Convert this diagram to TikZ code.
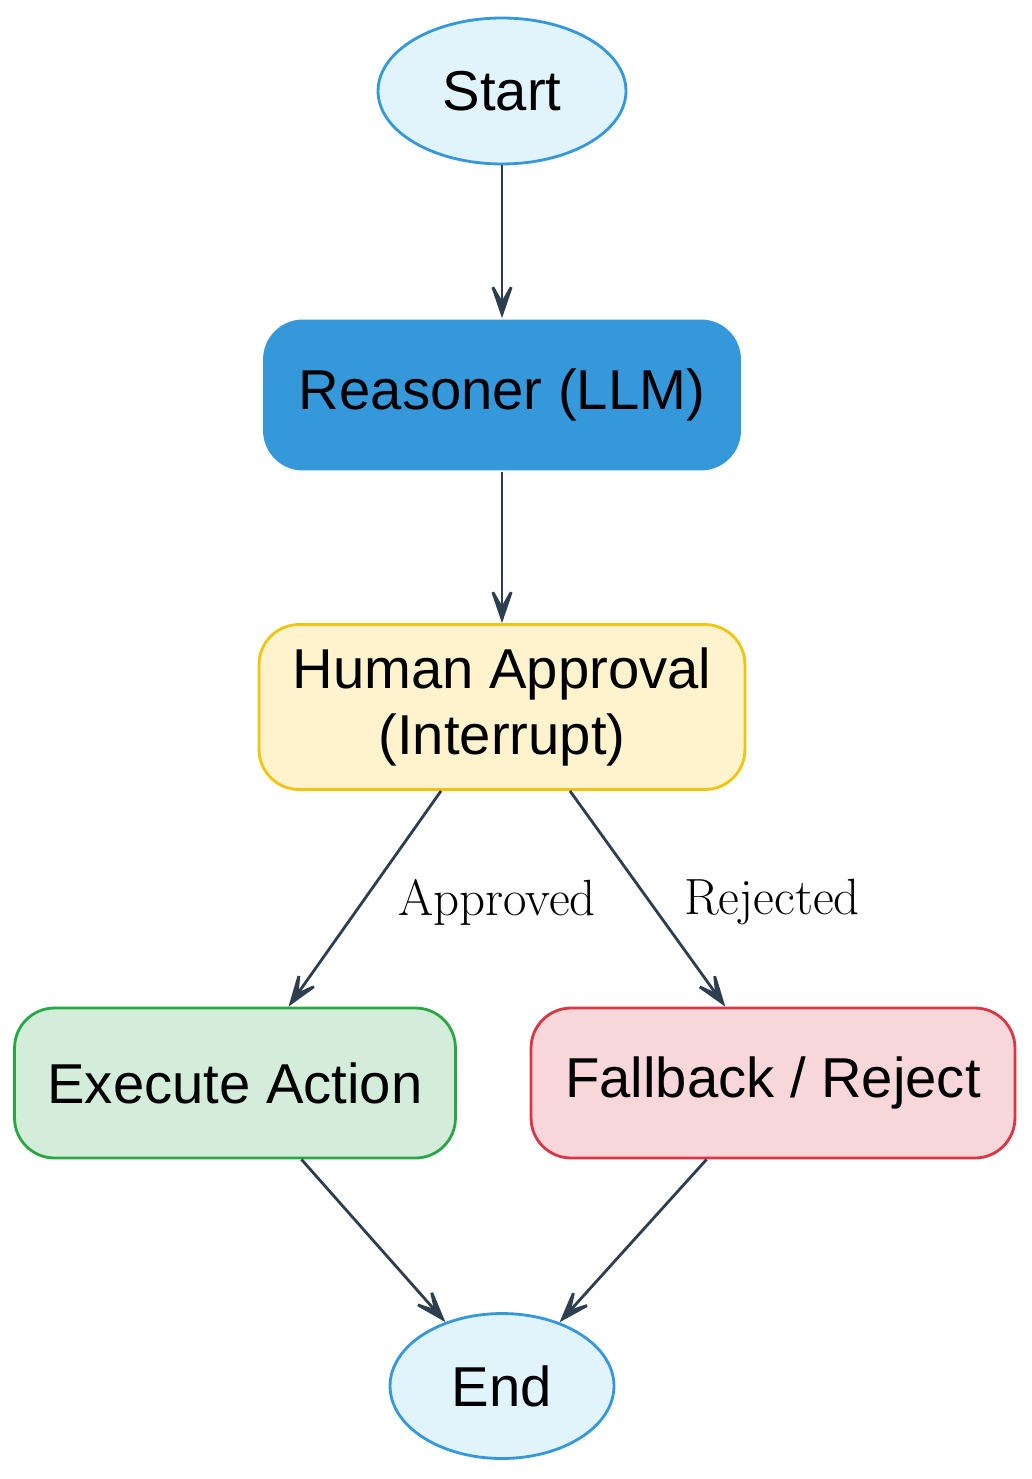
\documentclass[tikz,border=0pt]{standalone}
\usepackage{fontspec}
\setsansfont{Liberation Sans}
\usetikzlibrary{arrows.meta,shapes.geometric}
\definecolor{EdgeNavy}{HTML}{2C3E50}
\definecolor{TermBlue}{HTML}{3498DB}
\definecolor{TermFill}{HTML}{E1F4FC}
\definecolor{WaitFill}{HTML}{FFF3CD}
\definecolor{WaitLine}{HTML}{F1C40F}
\definecolor{GoFill}{HTML}{D4EDDA}
\definecolor{GoLine}{HTML}{28A745}
\definecolor{StopFill}{HTML}{F8D7DA}
\definecolor{StopLine}{HTML}{DC3545}
\tikzset{
  terminal/.style={ellipse,draw=TermBlue,fill=TermFill,line width=1.6pt,font=\sffamily\fontsize{32}{38}\selectfont},
  stage/.style={rectangle,rounded corners=0.8cm,line width=1.6pt,align=center,font=\sffamily\fontsize{32}{38}\selectfont},
  flow/.style={draw=EdgeNavy,line width=1.6pt,-{Stealth[length=0.9cm,width=0.62cm,inset=0.55cm]}},
  tag/.style={font=\fontsize{29}{34}\selectfont}
}
\begin{document}
\begin{tikzpicture}[x=0.02cm,y=-0.02cm]
    \useasboundingbox (0,0) rectangle (1031,1479);

    \node[terminal,minimum width=4.96cm,minimum height=2.92cm] (start) at (502,91) {Start};
    \node[stage,fill=TermBlue,minimum width=9.56cm,minimum height=3.02cm] (llm) at (502,395) {Reasoner (LLM)};
    \node[stage,draw=WaitLine,fill=WaitFill,minimum width=9.72cm,minimum height=3.3cm] (ha) at (502,707) {Human Approval\\(Interrupt)};
    \node[stage,draw=GoLine,fill=GoFill,minimum width=8.82cm,minimum height=3cm] (ex) at (235,1083) {Execute Action};
    \node[stage,draw=StopLine,fill=StopFill,minimum width=9.68cm,minimum height=3cm] (fb) at (773,1083) {Fallback / Reject};
    \node[terminal,minimum width=4.48cm,minimum height=2.9cm] (end) at (502,1386) {End};

    \draw[flow] (start) -- (llm);
    \draw[flow] (llm) -- (ha);
    \draw[flow] (ha.-126) -- (ex.55);
    \draw[flow] (ha.-51) -- (fb.122);
    \draw[flow] (ex.-49) -- (end);
    \draw[flow] (fb.-131) -- (end);

    \node[tag] (okay) at (497,902) {Approved};
    \node[tag] (nope) at (772,902) {Rejected};
\end{tikzpicture}
\end{document}
